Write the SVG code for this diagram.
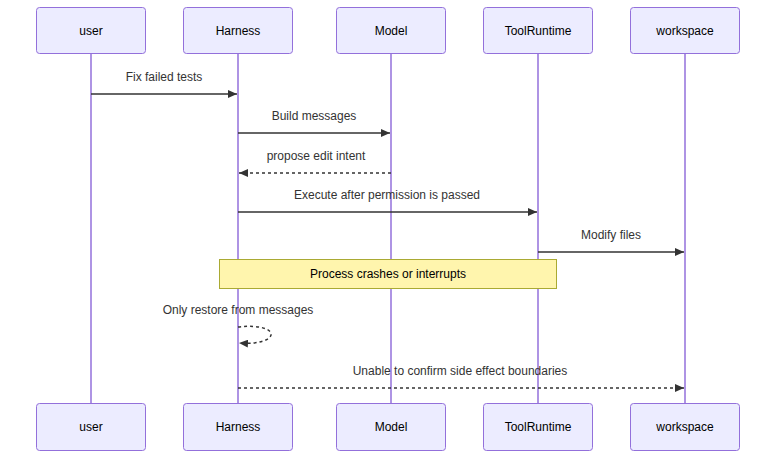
<svg xmlns="http://www.w3.org/2000/svg" width="784" height="465" viewBox="0 0 784 465">
<defs>
<style>
.actor{fill:#ECECFF;stroke:#9370DB;stroke-width:1;}
.life{stroke:#9370DB;stroke-width:1.5;}
.lbl{font-family:"Liberation Sans",Arial,sans-serif;font-size:12px;fill:#000;text-anchor:middle;dominant-baseline:central;}
.msg{font-family:"Liberation Sans",Arial,sans-serif;font-size:12px;fill:#333;text-anchor:middle;}
.line{stroke:#333;stroke-width:1.5;fill:none;}
.dash{stroke-dasharray:3,3;}
</style>
<marker id="ah" viewBox="0 0 9 8" refX="9" refY="4" markerWidth="9" markerHeight="8" markerUnits="userSpaceOnUse" orient="auto">
<path d="M0,0 L9,4 L0,8 z" fill="#333"/>
</marker>
</defs>
<rect width="784" height="465" fill="#fff"/>
<g id="lifelines">
<line class="life" x1="91" y1="54" x2="91" y2="404"/>
<line class="life" x1="238" y1="54" x2="238" y2="404"/>
<line class="life" x1="391" y1="54" x2="391" y2="404"/>
<line class="life" x1="538" y1="54" x2="538" y2="404"/>
<line class="life" x1="685" y1="54" x2="685" y2="404"/>
</g>
<g id="user"><rect class="actor" x="36.500" y="7.500" width="109" height="46" rx="3"/><text class="lbl" x="91" y="31">user</text></g>
<g id="Harness"><rect class="actor" x="183.500" y="7.500" width="109" height="46" rx="3"/><text class="lbl" x="238" y="31">Harness</text></g>
<g id="Model"><rect class="actor" x="336.500" y="7.500" width="109" height="46" rx="3"/><text class="lbl" x="391" y="31">Model</text></g>
<g id="ToolRuntime"><rect class="actor" x="483.500" y="7.500" width="109" height="46" rx="3"/><text class="lbl" x="538" y="31">ToolRuntime</text></g>
<g id="workspace"><rect class="actor" x="630.500" y="7.500" width="109" height="46" rx="3"/><text class="lbl" x="685" y="31">workspace</text></g>
<g id="user_bottom"><rect class="actor" x="36.500" y="403.500" width="109" height="47" rx="3"/><text class="lbl" x="91" y="427">user</text></g>
<g id="Harness_bottom"><rect class="actor" x="183.500" y="403.500" width="109" height="47" rx="3"/><text class="lbl" x="238" y="427">Harness</text></g>
<g id="Model_bottom"><rect class="actor" x="336.500" y="403.500" width="109" height="47" rx="3"/><text class="lbl" x="391" y="427">Model</text></g>
<g id="ToolRuntime_bottom"><rect class="actor" x="483.500" y="403.500" width="109" height="47" rx="3"/><text class="lbl" x="538" y="427">ToolRuntime</text></g>
<g id="workspace_bottom"><rect class="actor" x="630.500" y="403.500" width="109" height="47" rx="3"/><text class="lbl" x="685" y="427">workspace</text></g>
<g id="note"><rect x="219.500" y="259.500" width="337" height="29" fill="#fff5ad" stroke="#aaaa33" stroke-width="1"/><text class="lbl" x="388" y="274">Process crashes or interrupts</text></g>
<g id="connectors">
<text class="msg" x="164" y="81">Fix failed tests</text>
<line class="line" x1="91" y1="94" x2="237" y2="94" marker-end="url(#ah)"/>
<text class="msg" x="314" y="120">Build messages</text>
<line class="line" x1="238" y1="133" x2="390" y2="133" marker-end="url(#ah)"/>
<text class="msg" x="316" y="160">propose edit intent</text>
<line class="line dash" x1="391" y1="173" x2="239" y2="173" marker-end="url(#ah)"/>
<text class="msg" x="387" y="199">Execute after permission is passed</text>
<line class="line" x1="238" y1="212" x2="537" y2="212" marker-end="url(#ah)"/>
<text class="msg" x="611" y="239">Modify files</text>
<line class="line" x1="538" y1="252" x2="684" y2="252" marker-end="url(#ah)"/>
<text class="msg" x="238" y="314">Only restore from messages</text>
<path class="line dash" d="M238,327 C282,322 282,346 239,343" marker-end="url(#ah)"/>
<text class="msg" x="460" y="375">Unable to confirm side effect boundaries</text>
<line class="line dash" x1="238" y1="388" x2="684" y2="388" marker-end="url(#ah)"/>
</g>
</svg>
